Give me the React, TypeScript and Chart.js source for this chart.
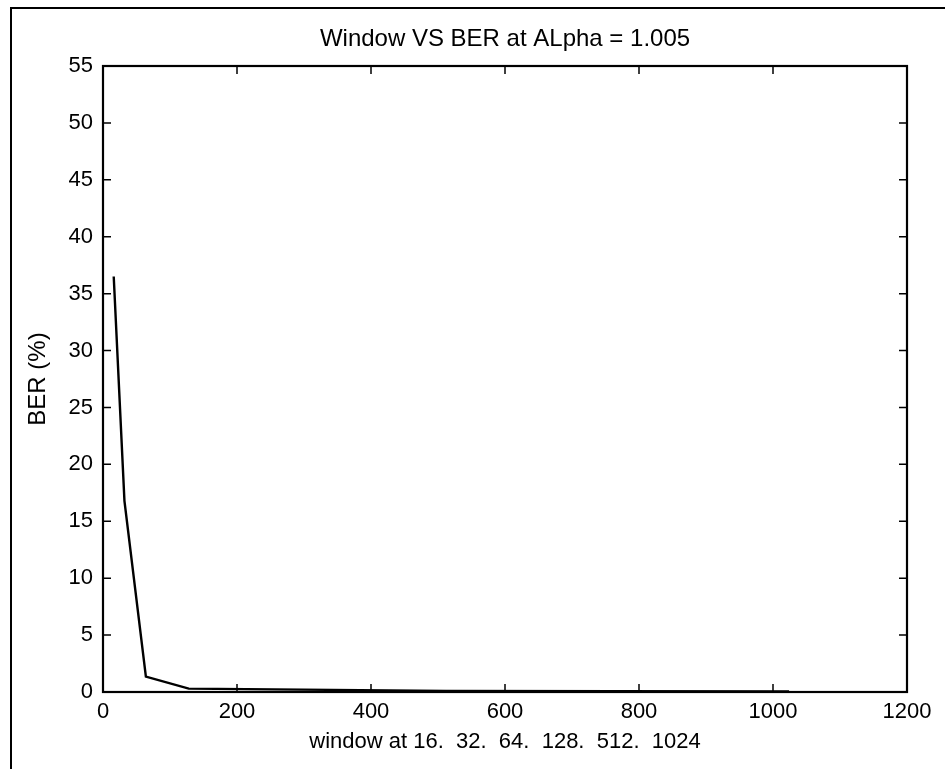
import React, { useEffect, useRef } from "react";
import { Chart, registerables } from "chart.js";

Chart.register(...registerables);

const windowSizes = [16, 32, 64, 128, 512, 1024];
const berPercent = [36.5, 16.8, 1.35, 0.3, 0.1, 0.05];
const xTickValues = [0, 200, 400, 600, 800, 1000, 1200];
const yTickValues = [0, 5, 10, 15, 20, 25, 30, 35, 40, 45, 50, 55];
const chartTitle = "Window VS BER at ALpha = 1.005";
const xTitle = "window at 16.  32.  64.  128.  512.  1024";
const yTitle = "BER (%)";

const FONT = "'Liberation Sans', Arial, Helvetica, sans-serif";

const boxPlugin = {
  id: "matlabBox",
  afterDraw(chart: any) {
    const { ctx, chartArea } = chart;
    const xs = chart.scales.x;
    const ys = chart.scales.y;
    const { left, right, top, bottom } = chartArea;
    const tl = 8;
    ctx.save();
    ctx.strokeStyle = "#000";
    ctx.lineWidth = 1.5;
    ctx.beginPath();
    xTickValues.forEach((v) => {
      const px = xs.getPixelForValue(v);
      ctx.moveTo(px, bottom);
      ctx.lineTo(px, bottom - tl);
      ctx.moveTo(px, top);
      ctx.lineTo(px, top + tl);
    });
    yTickValues.forEach((v) => {
      const py = ys.getPixelForValue(v);
      ctx.moveTo(left, py);
      ctx.lineTo(left + tl, py);
      ctx.moveTo(right, py);
      ctx.lineTo(right - tl, py);
    });
    ctx.stroke();
    ctx.lineWidth = 2.2;
    ctx.strokeRect(left, top, right - left, bottom - top);
    ctx.restore();
  },
};

export default function App() {
  const canvasRef = useRef<HTMLCanvasElement | null>(null);

  useEffect(() => {
    if (!canvasRef.current) return;
    const chart = new Chart(canvasRef.current, {
      type: "scatter",
      data: {
        datasets: [
          {
            data: windowSizes.map((x, i) => ({ x, y: berPercent[i] })),
            showLine: true,
            borderColor: "#000",
            backgroundColor: "#000",
            borderWidth: 2.4,
            pointRadius: 0,
            tension: 0,
          },
        ],
      },
      options: {
        animation: false,
        responsive: true,
        maintainAspectRatio: false,
        layout: { padding: { left: 0, right: 38, top: 0, bottom: 0 } },
        plugins: {
          legend: { display: false },
          tooltip: { enabled: false },
          title: { display: false },
        },
        scales: {
          x: {
            type: "linear",
            position: "bottom",
            min: 0,
            max: 1200,
            afterFit: (s: any) => {
              s.height = 77;
            },
            afterBuildTicks: (s: any) => {
              s.ticks = xTickValues.map((v) => ({ value: v }));
            },
            ticks: {
              color: "#000",
              font: { family: FONT, size: 22 },
              padding: 7,
              autoSkip: false,
              maxRotation: 0,
              callback: (v: any) => String(v),
            },
            grid: { display: false, drawTicks: false },
            border: { display: false },
            title: {
              display: true,
              text: xTitle,
              color: "#000",
              font: { family: FONT, size: 22 },
              padding: { top: 0, bottom: 14 },
            },
          },
          xTop: {
            type: "linear",
            position: "top",
            min: 0,
            max: 1200,
            afterFit: (s: any) => {
              s.height = 66;
            },
            ticks: { display: false },
            grid: { display: false, drawTicks: false },
            border: { display: false },
            title: {
              display: true,
              text: chartTitle,
              color: "#000",
              font: { family: FONT, size: 24 },
              padding: { top: 24.6, bottom: 0 },
            },
          },
          y: {
            type: "linear",
            min: 0,
            max: 55,
            afterFit: (s: any) => {
              s.width = 103;
            },
            afterBuildTicks: (s: any) => {
              s.ticks = yTickValues.map((v) => ({ value: v }));
            },
            ticks: {
              color: "#000",
              font: { family: FONT, size: 22 },
              padding: 10,
              autoSkip: false,
              callback: (v: any) => String(v),
            },
            grid: { display: false, drawTicks: false },
            border: { display: false },
            title: {
              display: true,
              text: yTitle,
              color: "#000",
              font: { family: FONT, size: 24 },
              padding: { top: 24, bottom: 0 },
            },
          },
        },
      },
      plugins: [boxPlugin],
    });
    return () => chart.destroy();
  }, []);

  return (
    <div style={{ position: "fixed", left: 0, top: 0, width: 945, height: 769, background: "#fff" }}>
      <div
        style={{
          position: "absolute",
          left: 10,
          top: 7,
          width: 1000,
          height: 1000,
          borderLeft: "2.5px solid #000",
          borderTop: "2.5px solid #000",
          boxSizing: "border-box",
        }}
      />
      <div style={{ position: "absolute", left: 0, top: 0, width: 945, height: 769 }}>
        <canvas ref={canvasRef} />
      </div>
    </div>
  );
}
